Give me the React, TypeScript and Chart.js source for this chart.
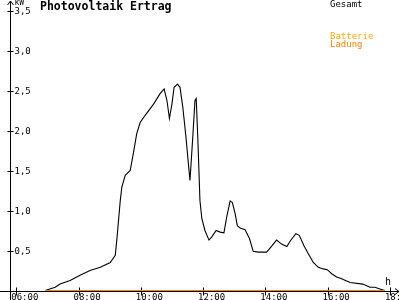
import { useEffect, useRef } from "react";
import { Chart, registerables } from "chart.js";
Chart.register(...registerables);

const chartTitle = "Photovoltaik Ertrag";
const hours = [
  6.93, 7.25, 7.41, 7.73, 8.05, 8.37, 8.7, 9.02, 9.18, 9.23, 9.34, 9.39, 9.5, 9.66, 9.76, 9.87, 9.98,
  10.14, 10.41, 10.62, 10.75, 10.84, 10.92, 11.0, 11.07, 11.18, 11.26, 11.35, 11.45, 11.53, 11.58,
  11.67, 11.74, 11.78, 11.83, 11.9, 11.96, 12.06, 12.19, 12.28, 12.42, 12.55, 12.67, 12.76, 12.87,
  12.94, 13.03, 13.1, 13.19, 13.35, 13.49, 13.61, 13.77, 14.04, 14.17, 14.36, 14.52, 14.69, 14.81,
  14.98, 15.09, 15.24, 15.38, 15.54, 15.7, 15.86, 15.99, 16.13, 16.29, 16.43, 16.72, 17.13, 17.36,
  17.52, 17.68, 17.84,
];
const gesamtKW = [
  0, 0.04, 0.08, 0.125, 0.19, 0.25, 0.29, 0.35, 0.44, 0.63, 1.12, 1.29, 1.44, 1.5, 1.71, 1.96, 2.1,
  2.19, 2.33, 2.46, 2.52, 2.375, 2.15, 2.33, 2.54, 2.58, 2.54, 2.29, 1.92, 1.58, 1.375,
  1.92, 2.375, 2.4, 1.92, 1.125, 0.9, 0.75, 0.63, 0.67, 0.75, 0.73, 0.72, 0.92, 1.12,
  1.1, 0.96, 0.81, 0.78, 0.76, 0.65, 0.49, 0.48, 0.48, 0.54, 0.63, 0.58, 0.55, 0.625,
  0.71, 0.69, 0.56, 0.46, 0.35, 0.29, 0.27, 0.26, 0.21, 0.17, 0.15, 0.1, 0.08, 0.04,
  0.04, 0.02, 0,
];
const ladungHours = [6.93, 17.84];
const ladungKW = [0, 0];
const yTicks = [0.5, 1.0, 1.5, 2.0, 2.5, 3.0, 3.5];
const yTickLabels = ["0,5", "1,0", "1,5", "2,0", "2,5", "3,0", "3,5"];
const xTicks = [6, 8, 10, 12, 14, 16, 18];
const xTickLabels = ["06:00", "08:00", "10:00", "12:00", "14:00", "16:00", "18:00"];

const BLACK = "#000000";
const ORANGE = "#ff8000";
const AMBER = "#ffaa00";
const MONO = "'DejaVu Sans Mono', 'Liberation Mono', monospace";

const decorPlugin = {
  id: "decor",
  beforeDatasetsDraw(chart: any) {
    const ctx = chart.ctx;
    const xs = chart.scales.x;
    const ys = chart.scales.y;
    const ax = Math.round(xs.getPixelForValue(xs.min)) + 0.5;
    const ay = Math.round(ys.getPixelForValue(0)) + 0.5;
    ctx.save();
    ctx.strokeStyle = BLACK;
    ctx.fillStyle = BLACK;
    ctx.lineWidth = 1;
    ctx.beginPath();
    ctx.moveTo(ax, 1);
    ctx.lineTo(ax, 300);
    ctx.moveTo(0, ay);
    ctx.lineTo(399, ay);
    ctx.moveTo(ax - 3, 5);
    ctx.lineTo(ax, 1);
    ctx.lineTo(ax + 3, 5);
    ctx.moveTo(395, ay - 3);
    ctx.lineTo(399, ay);
    ctx.lineTo(395, ay + 3);
    yTicks.forEach((v) => {
      const py = Math.round(ys.getPixelForValue(v)) + 0.5;
      ctx.moveTo(ax - 3, py);
      ctx.lineTo(ax + 3, py);
    });
    xTicks.forEach((v) => {
      const px = Math.round(xs.getPixelForValue(v)) + 0.5;
      ctx.moveTo(px, ay - 4);
      ctx.lineTo(px, ay + 4);
    });
    ctx.stroke();

    ctx.font = `9px ${MONO}`;
    ctx.textBaseline = "middle";
    ctx.textAlign = "left";
    yTicks.forEach((v, i) => {
      const py = ys.getPixelForValue(v);
      ctx.fillText(yTickLabels[i], ax + 4, py + 1);
    });
    ctx.textBaseline = "top";
    xTicks.forEach((v, i) => {
      const px = xs.getPixelForValue(v);
      ctx.fillText(xTickLabels[i], px - 5, ay + 2);
    });
    ctx.font = `8px ${MONO}`;
    ctx.fillText("kW", ax + 4, -1);
    ctx.font = `10px ${MONO}`;
    ctx.fillText("h", 385, 277);

    ctx.font = `bold 11.5px ${MONO}`;
    ctx.fillText(chartTitle, 40, 1.5);

    ctx.font = `9px ${MONO}`;
    ctx.fillText("Gesamt", 330, 0);
    ctx.fillStyle = AMBER;
    ctx.fillText("Batterie", 330, 32);
    ctx.fillStyle = ORANGE;
    ctx.fillText("Ladung", 330, 40);
    ctx.restore();
  },
};

export default function App() {
  const ref = useRef<HTMLCanvasElement>(null);
  useEffect(() => {
    document.body.style.margin = "0";
    const chart = new Chart(ref.current!, {
      type: "line",
      data: {
        datasets: [
          {
            label: "Batterie Ladung",
            data: ladungHours.map((h, i) => ({ x: h, y: ladungKW[i] })),
            borderColor: ORANGE,
            borderWidth: 1.2,
            pointRadius: 0,
            tension: 0,
            clip: false as any,
            order: 0,
          },
          {
            label: "Gesamt",
            data: hours.map((h, i) => ({ x: h, y: gesamtKW[i] })),
            borderColor: BLACK,
            borderWidth: 1.1,
            pointRadius: 0,
            tension: 0,
            clip: false as any,
            order: 1,
          },
        ],
      },
      options: {
        responsive: false,
        animation: false,
        layout: { padding: { left: 10, right: 2, top: 10.5, bottom: 9.5 } },
        plugins: { legend: { display: false }, title: { display: false }, tooltip: { enabled: false } },
        scales: {
          x: { type: "linear", min: 5.8, max: 18.26, display: false },
          y: { type: "linear", min: 0, max: 3.5, display: false },
        },
      },
      plugins: [decorPlugin],
    });
    return () => chart.destroy();
  }, []);
  return (
    <div style={{ position: "fixed", left: 0, top: 0, width: 400, height: 300, background: "#fff" }}>
      <canvas ref={ref} width={400} height={300} />
    </div>
  );
}
